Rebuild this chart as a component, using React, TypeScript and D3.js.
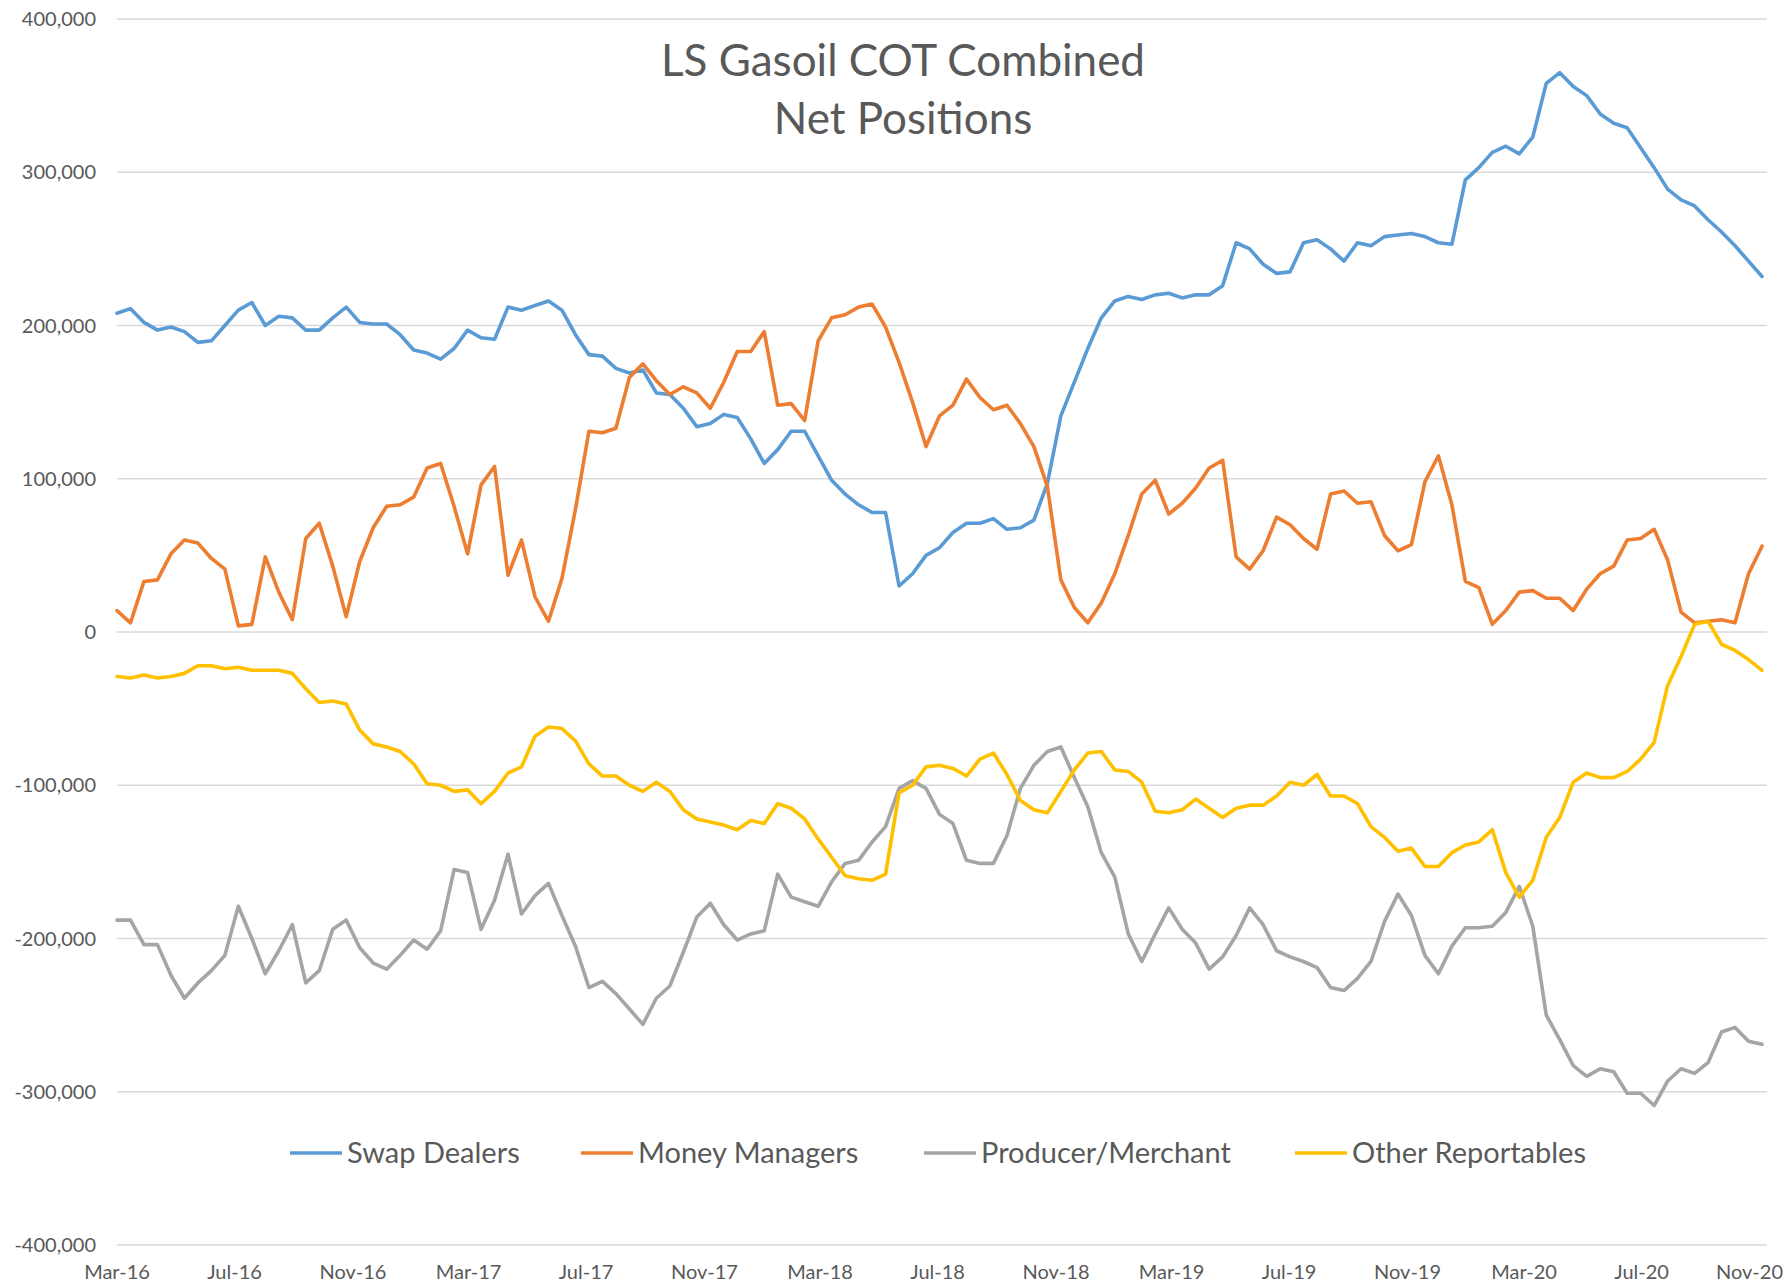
import { useEffect, useRef } from 'react';
import * as d3 from 'd3';

// weekly COT report sampled every second week, values in thousands of lots
const startDate = '2016-03-01';
const stepDays = 14;

const titleLines = ['LS Gasoil COT Combined', 'Net Positions'];
const seriesNames = ['Swap Dealers', 'Money Managers', 'Producer/Merchant', 'Other Reportables'];
const seriesColors = ['#5B9BD5', '#ED7D31', '#A5A5A5', '#FFC000'];
const yTicks = [400, 300, 200, 100, 0, -100, -200, -300, -400];
const xTickLabels = [
  'Mar-16', 'Jul-16', 'Nov-16', 'Mar-17', 'Jul-17', 'Nov-17', 'Mar-18', 'Jul-18',
  'Nov-18', 'Mar-19', 'Jul-19', 'Nov-19', 'Mar-20', 'Jul-20', 'Nov-20',
];

const swapDealers = [
  208, 211, 202, 197, 199, 196, 189, 190, 200, 210,
  215, 200, 206, 205, 197, 197, 205, 212, 202, 201,
  201, 194, 184, 182, 178, 185, 197, 192, 191, 212,
  210, 213, 216, 210, 194, 181, 180, 172, 169, 171,
  156, 155, 146, 134, 136, 142, 140, 126, 110, 119,
  131, 131, 115, 99, 90, 83, 78, 78, 30, 38,
  50, 55, 65, 71, 71, 74, 67, 68, 73, 97,
  141, 163, 185, 205, 216, 219, 217, 220, 221, 218,
  220, 220, 226, 254, 250, 240, 234, 235, 254, 256,
  250, 242, 254, 252, 258, 259, 260, 258, 254, 253,
  295, 303, 313, 317, 312, 323, 358, 365, 356, 350,
  338, 332, 329, 316, 303, 289, 282, 278, 269, 261,
  252, 242, 232,
];

const moneyManagers = [
  14, 6, 33, 34, 51, 60, 58, 48, 41, 4,
  5, 49, 26, 8, 61, 71, 43, 10, 46, 68,
  82, 83, 88, 107, 110, 82, 51, 96, 108, 37,
  60, 23, 7, 35, 80, 131, 130, 133, 166, 175,
  164, 155, 160, 156, 146, 163, 183, 183, 196, 148,
  149, 138, 190, 205, 207, 212, 214, 199, 176, 150,
  121, 141, 148, 165, 153, 145, 148, 136, 121, 95,
  34, 16, 6, 19, 38, 63, 90, 99, 77, 84,
  94, 107, 112, 49, 41, 53, 75, 70, 61, 54,
  90, 92, 84, 85, 63, 53, 57, 98, 115, 83,
  33, 29, 5, 14, 26, 27, 22, 22, 14, 28,
  38, 43, 60, 61, 67, 47, 13, 6, 7, 8,
  6, 38, 56,
];

const producerMerchant = [
  -188, -188, -204, -204, -224, -239, -229, -221, -211, -179,
  -200, -223, -208, -191, -229, -221, -194, -188, -206, -216,
  -220, -211, -201, -207, -195, -155, -157, -194, -175, -145,
  -184, -172, -164, -185, -205, -232, -228, -236, -246, -256,
  -239, -231, -209, -186, -177, -191, -201, -197, -195, -158,
  -173, -176, -179, -163, -151, -149, -137, -127, -102, -97,
  -102, -119, -125, -149, -151, -151, -133, -102, -87, -78,
  -75, -95, -114, -144, -160, -197, -215, -197, -180, -194,
  -203, -220, -212, -198, -180, -191, -208, -212, -215, -219,
  -232, -234, -226, -215, -189, -171, -185, -211, -223, -205,
  -193, -193, -192, -183, -166, -192, -250, -266, -283, -290,
  -285, -287, -301, -301, -309, -293, -285, -288, -281, -261,
  -258, -267, -269,
];

const otherReportables = [
  -29, -30, -28, -30, -29, -27, -22, -22, -24, -23,
  -25, -25, -25, -27, -37, -46, -45, -47, -64, -73,
  -75, -78, -86, -99, -100, -104, -103, -112, -104, -92,
  -88, -68, -62, -63, -71, -86, -94, -94, -100, -104,
  -98, -104, -116, -122, -124, -126, -129, -123, -125, -112,
  -115, -122, -135, -147, -159, -161, -162, -158, -105, -100,
  -88, -87, -89, -94, -83, -79, -93, -110, -116, -118,
  -104, -90, -79, -78, -90, -91, -98, -117, -118, -116,
  -109, -115, -121, -115, -113, -113, -107, -98, -100, -93,
  -107, -107, -112, -127, -134, -143, -141, -153, -153, -144,
  -139, -137, -129, -157, -173, -162, -134, -121, -98, -92,
  -95, -95, -91, -83, -72, -35, -16, 5, 7, -8,
  -12, -18, -25,
];

const W = 1785;
const H = 1283;
const FONT = "Lato, 'Open Sans', sans-serif";
const TEXT = '#595959';

export default function App() {
  const svgRef = useRef<SVGSVGElement>(null);

  useEffect(() => {
    if (!svgRef.current) return;
    document.body.style.margin = '0';

    const svg = d3.select(svgRef.current);
    svg.selectAll('*').remove();

    const series = [swapDealers, moneyManagers, producerMerchant, otherReportables];
    const start = d3.timeParse('%Y-%m-%d')(startDate) as Date;
    const dates = swapDealers.map((_, i) => d3.timeDay.offset(start, i * stepDays));

    const plotLeft = 117;
    const gridRight = 1767;

    const x = d3.scaleTime().domain([dates[0], dates[dates.length - 1]]).range([plotLeft, 1762]);
    const y = d3.scaleLinear().domain([-400, 400]).range([1245, 19]);

    svg.append('rect').attr('width', W).attr('height', H).attr('fill', '#fff');

    // gridlines + y labels
    svg
      .append('g')
      .selectAll('line')
      .data(yTicks)
      .enter()
      .append('line')
      .attr('x1', plotLeft)
      .attr('x2', gridRight)
      .attr('y1', (d) => y(d))
      .attr('y2', (d) => y(d))
      .attr('stroke', '#d9d9d9')
      .attr('stroke-width', 1.5);

    const fmt = d3.format(',');
    svg
      .append('g')
      .selectAll('text')
      .data(yTicks)
      .enter()
      .append('text')
      .attr('x', 96)
      .attr('y', (d) => y(d))
      .attr('dy', '0.35em')
      .attr('text-anchor', 'end')
      .style('font-family', FONT)
      .style('font-size', '20px')
      .style('fill', TEXT)
      .text((d) => (d < 0 ? '-' : '') + fmt(Math.abs(d * 1000)));

    // x labels (last one pulled in so it stays inside the picture)
    const parseLabel = d3.timeParse('%b-%y');
    svg
      .append('g')
      .selectAll('text')
      .data(xTickLabels)
      .enter()
      .append('text')
      .attr('x', (d) => x(parseLabel(d) as Date))
      .attr('y', 1279)
      .attr('text-anchor', 'middle')
      .style('font-family', FONT)
      .style('font-size', '20px')
      .style('fill', TEXT)
      .text((d) => d)
      .each(function () {
        const el = this as SVGTextElement;
        const bb = el.getBBox();
        if (bb.x + bb.width > W - 2) {
          el.setAttribute('text-anchor', 'end');
          el.setAttribute('x', String(W - 2));
        }
      });

    // series lines
    const line = d3
      .line<number>()
      .x((_, i) => x(dates[i]))
      .y((d) => y(d));

    series.forEach((values, k) => {
      svg
        .append('path')
        .datum(values)
        .attr('d', line)
        .attr('fill', 'none')
        .attr('stroke', seriesColors[k])
        .attr('stroke-width', 3.6)
        .attr('stroke-linejoin', 'round')
        .attr('stroke-linecap', 'round');
    });

    // title
    svg
      .append('text')
      .attr('text-anchor', 'middle')
      .style('font-family', FONT)
      .style('font-size', '44px')
      .style('fill', TEXT)
      .selectAll('tspan')
      .data(titleLines)
      .enter()
      .append('tspan')
      .attr('x', 903)
      .attr('y', (_, i) => 76 + i * 58)
      .text((d) => d);

    // legend
    const legendX = [290, 581, 924, 1295];
    const legendY = 1153;
    const legend = svg
      .append('g')
      .selectAll('g')
      .data(seriesNames)
      .enter()
      .append('g')
      .attr('transform', (_, i) => `translate(${legendX[i]},${legendY})`);

    legend
      .append('line')
      .attr('x1', 0)
      .attr('x2', 52)
      .attr('stroke', (_, i) => seriesColors[i])
      .attr('stroke-width', 3.6);

    legend
      .append('text')
      .attr('x', 57)
      .attr('dy', '0.35em')
      .style('font-family', FONT)
      .style('font-size', '29px')
      .style('fill', TEXT)
      .text((d) => d);
  }, []);

  return <svg ref={svgRef} width={W} height={H} style={{ display: 'block' }} />;
}
